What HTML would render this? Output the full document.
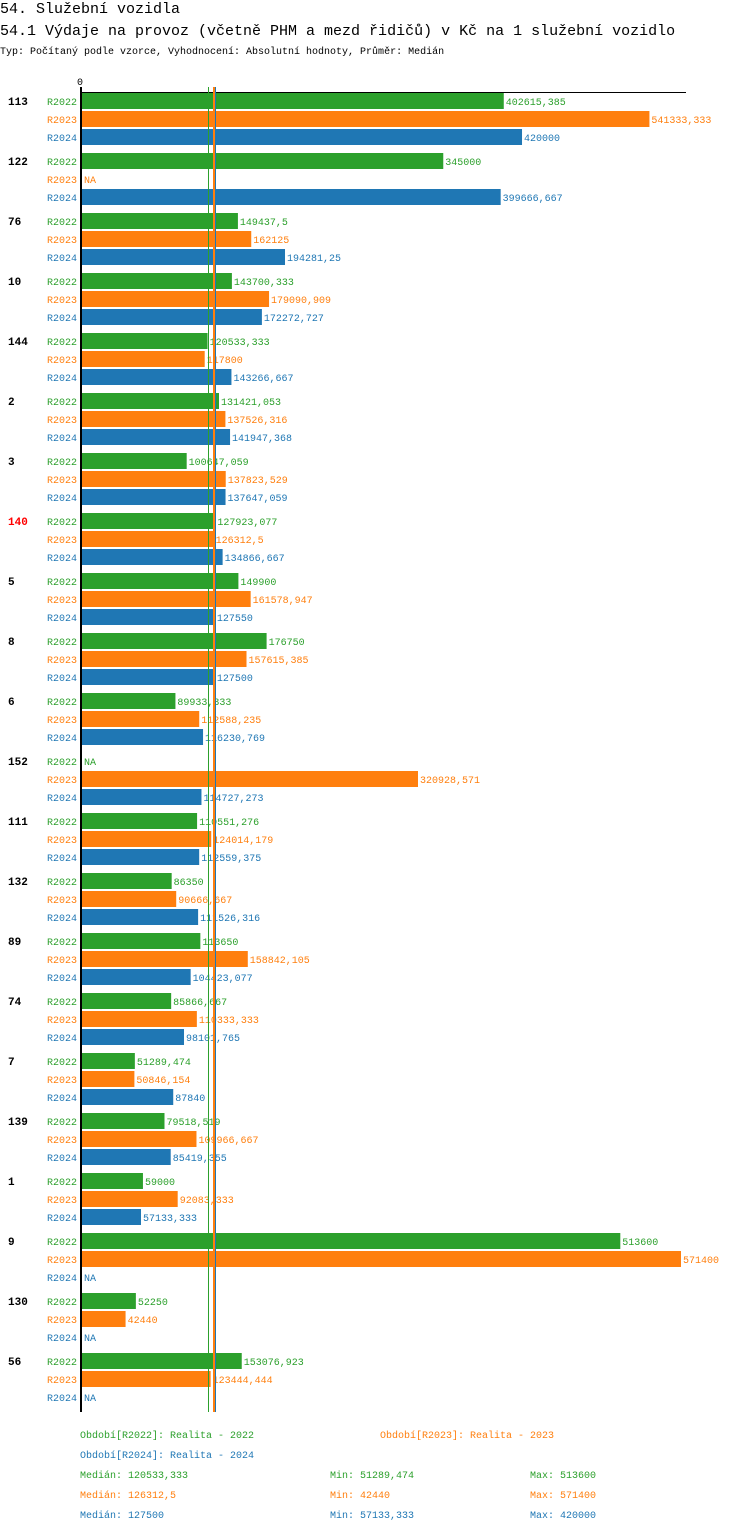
<!DOCTYPE html>
<html><head><meta charset="utf-8"><style>
body{margin:0;background:#fff;width:750px;height:1532px;overflow:hidden}
svg{font-family:"Liberation Mono",monospace;display:block}
</style></head><body>
<svg id="chart" width="750" height="1532" xmlns="http://www.w3.org/2000/svg">
<text x="0" y="13" font-size="15">54. Služební vozidla</text>
<text x="0" y="35" font-size="15">54.1 Výdaje na provoz (včetně PHM a mezd řidičů) v Kč na 1 služební vozidlo</text>
<text x="0" y="54" font-size="10">Typ: Počítaný podle vzorce, Vyhodnocení: Absolutní hodnoty, Průměr: Medián</text>
<text x="77" y="85" font-size="10">0</text>
<g id="bars"></g>
<line x1="80" y1="92.5" x2="686" y2="92.5" stroke="#000" stroke-width="1"/>
<line x1="81" y1="87" x2="81" y2="1412" stroke="#000" stroke-width="2"/>
<g id="medians"></g>
<g font-size="10">
<text x="80" y="1438" fill="#2ca02c">Období[R2022]: Realita - 2022</text>
<text x="380" y="1438" fill="#ff7f0e">Období[R2023]: Realita - 2023</text>
<text x="80" y="1458" fill="#1f77b4">Období[R2024]: Realita - 2024</text>
<text x="80" y="1478" fill="#2ca02c">Medián: 120533,333</text>
<text x="330" y="1478" fill="#2ca02c">Min: 51289,474</text>
<text x="530" y="1478" fill="#2ca02c">Max: 513600</text>
<text x="80" y="1498" fill="#ff7f0e">Medián: 126312,5</text>
<text x="330" y="1498" fill="#ff7f0e">Min: 42440</text>
<text x="530" y="1498" fill="#ff7f0e">Max: 571400</text>
<text x="80" y="1518" fill="#1f77b4">Medián: 127500</text>
<text x="330" y="1518" fill="#1f77b4">Min: 57133,333</text>
<text x="530" y="1518" fill="#1f77b4">Max: 420000</text>
</g>
</svg>
<script>
const categories=["113","122","76","10","144","2","3","140","5","8","6","152","111","132","89","74","7","139","1","9","130","56"];
const seriesNames=["R2022","R2023","R2024"];
const r2022=[402615.385,345000,149437.5,143700.333,120533.333,131421.053,100647.059,127923.077,149900,176750,89933.333,null,110551.276,86350,113650,85866.667,51289.474,79518.519,59000,513600,52250,153076.923];
const r2023=[541333.333,null,162125,179090.909,117800,137526.316,137823.529,126312.5,161578.947,157615.385,112588.235,320928.571,124014.179,90666.667,158842.105,110333.333,50846.154,109966.667,92083.333,571400,42440,123444.444];
const r2024=[420000,399666.667,194281.25,172272.727,143266.667,141947.368,137647.059,134866.667,127550,127500,116230.769,114727.273,112559.375,111526.316,104423.077,98101.765,87840,85419.355,57133.333,null,null,null];
const medians=[120533.333,126312.5,127500];
const highlighted="140";
const colors=["#2ca02c","#ff7f0e","#1f77b4"];
const NS="http://www.w3.org/2000/svg";
const x=v=>81+v*600/571400;
const yBar=(g,s)=>93+g*60+s*18;
function fmt(v){return String(Math.round(v*1000)/1000).replace('.',',');}
const bars=document.getElementById('bars');
function mk(tag,attrs,txt){const e=document.createElementNS(NS,tag);for(const k in attrs)e.setAttribute(k,attrs[k]);if(txt!=null)e.textContent=txt;return e;}
const all=[r2022,r2023,r2024];
categories.forEach((c,g)=>{
  const t=mk('text',{x:8,y:yBar(g,0)+12,'font-size':11,'font-weight':'bold',fill:c===highlighted?'#ff0000':'#000'},c);
  
  
  bars.appendChild(t);
  all.forEach((arr,s)=>{
    const y=yBar(g,s);
    const l=mk('text',{x:77,y:y+12,'font-size':10,'text-anchor':'end',fill:colors[s]},seriesNames[s]);
    
    
    bars.appendChild(l);
    const v=arr[g];
    if(v==null){
      const na=mk('text',{x:84,y:y+12,'font-size':10,fill:colors[s]},'NA');
      
      
      bars.appendChild(na);
      return;
    }
    const r=mk('rect',{x:81,y:y,width:x(v)-81,height:16,fill:colors[s]});
    
    
    bars.appendChild(r);
    const vl=mk('text',{x:x(v)+2,y:y+12,'font-size':10,fill:colors[s]},fmt(v));
    
    
    bars.appendChild(vl);
  });
});
const md=document.getElementById('medians');
[2,1,0].forEach(s=>{
  const px=Math.round(x(medians[s]))+(s===0?0.5:0);
  const ln=mk('line',{x1:px,x2:px,y1:87,y2:1412,stroke:colors[s],'stroke-width':s===0?1:2});
  
  
  md.appendChild(ln);
});
</script>
</body></html>
